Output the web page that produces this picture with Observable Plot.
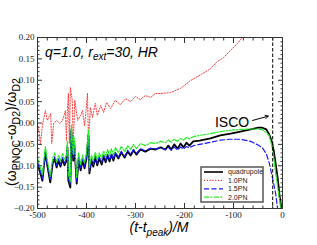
<!DOCTYPE html>
<html><head><meta charset="utf-8">
<script src="https://cdn.jsdelivr.net/npm/d3@7"></script>
<script src="https://cdn.jsdelivr.net/npm/@observablehq/plot@0.6"></script>
<style>body{margin:0;background:#fff} #chart{width:317px;height:245px}</style>
</head><body><div id="chart"></div>
<script>
// shared time grid (t - t_peak)/M for quadrupole, 1.5PN, 2.0PN
const tGrid = [-500,-494,-490,-484,-480,-474,-469,-465,-461,-457,-453,-449,-445,-441,-439,-437,-433,-431,-427,-425,-420,-416,-412,-408,-404,-400,-396,-394,-390,-386,-382,-378,-374,-369,-365,-361,-357,-353,-349,-345,-341,-335,-329,-322,-316,-310,-304,-298,-290,-280,-269,-259,-249,-239,-233,-227,-221,-214,-208,-202,-196,-190,-182,-169,-147,-127,-106,-86,-65,-49,-41,-33,-27,-22,-18,-14,-10,-6,-2];
const quadrupole = [-0.095,-0.118,-0.135,-0.069,-0.099,-0.139,-0.095,-0.083,-0.104,-0.088,-0.102,-0.085,-0.099,-0.088,-0.057,-0.135,-0.151,-0.018,-0.088,-0.048,-0.142,-0.083,-0.111,-0.088,-0.106,-0.083,-0.029,-0.118,-0.088,-0.102,-0.081,-0.099,-0.083,-0.097,-0.078,-0.092,-0.076,-0.090,-0.074,-0.088,-0.071,-0.083,-0.069,-0.081,-0.067,-0.076,-0.064,-0.074,-0.062,-0.067,-0.060,-0.062,-0.057,-0.062,-0.053,-0.062,-0.050,-0.060,-0.048,-0.057,-0.046,-0.053,-0.043,-0.041,-0.036,-0.029,-0.025,-0.020,-0.015,-0.011,-0.011,-0.015,-0.027,-0.043,-0.064,-0.095,-0.127,-0.170,-0.200];
const pn15 = [-0.092,-0.114,-0.130,-0.066,-0.096,-0.134,-0.091,-0.079,-0.100,-0.084,-0.098,-0.081,-0.095,-0.084,-0.052,-0.130,-0.146,-0.014,-0.084,-0.044,-0.137,-0.079,-0.107,-0.084,-0.102,-0.079,-0.026,-0.113,-0.084,-0.098,-0.077,-0.095,-0.079,-0.093,-0.075,-0.089,-0.073,-0.087,-0.071,-0.085,-0.068,-0.080,-0.066,-0.078,-0.064,-0.073,-0.062,-0.071,-0.060,-0.065,-0.059,-0.061,-0.057,-0.063,-0.057,-0.064,-0.056,-0.063,-0.056,-0.061,-0.055,-0.058,-0.053,-0.050,-0.045,-0.040,-0.038,-0.038,-0.043,-0.052,-0.058,-0.072,-0.094,-0.120,-0.142,-0.165,-0.200,-0.210,-0.210];
const pn20 = [-0.082,-0.104,-0.121,-0.055,-0.086,-0.125,-0.082,-0.070,-0.091,-0.075,-0.089,-0.072,-0.086,-0.075,-0.042,-0.121,-0.137,-0.004,-0.075,-0.034,-0.128,-0.070,-0.098,-0.075,-0.093,-0.070,-0.016,-0.104,-0.075,-0.089,-0.068,-0.086,-0.070,-0.084,-0.065,-0.079,-0.062,-0.077,-0.060,-0.075,-0.057,-0.070,-0.055,-0.067,-0.053,-0.062,-0.050,-0.060,-0.048,-0.053,-0.046,-0.048,-0.043,-0.046,-0.040,-0.045,-0.038,-0.043,-0.036,-0.040,-0.034,-0.037,-0.032,-0.029,-0.025,-0.020,-0.017,-0.015,-0.014,-0.014,-0.016,-0.022,-0.030,-0.052,-0.078,-0.118,-0.148,-0.180,-0.210];
// 1.0PN has its own sampling
const pn10T = [-500,-496,-494,-490,-484,-480,-473,-471,-467,-461,-455,-449,-443,-441,-439,-437,-435,-433,-429,-427,-424,-418,-412,-408,-404,-400,-398,-396,-392,-388,-382,-378,-371,-365,-359,-351,-341,-331,-320,-310,-300,-290,-280,-269,-259,-249,-229,-208,-188,-167,-147,-133,-120,-106,-92,-82,-73];
const pn10 = [-0.001,-0.029,-0.048,-0.006,0.029,0.006,0.022,-0.048,-0.001,0.006,-0.001,0.006,0.029,-0.041,0.029,0.069,-0.048,0.083,0.053,-0.053,0.053,0.006,0.018,0.029,-0.006,0.041,0.069,-0.041,0.036,0.013,0.046,0.018,0.041,0.025,0.048,0.034,0.053,0.043,0.057,0.050,0.062,0.055,0.064,0.060,0.069,0.069,0.071,0.081,0.099,0.113,0.127,0.144,0.153,0.170,0.186,0.200,0.214];

const iscoT = [-20];
const iscoLabel = [{t: -103, v: 0.002, text: "ISCO"}];
const iscoArrow = [{t1: -61, v1: 0.006, t2: -29, v2: 0.016}];

const xMajor = [-500,-400,-300,-200,-100,0];
const xMinor = [-480,-460,-440,-420,-380,-360,-340,-320,-280,-260,-240,-220,-180,-160,-140,-120,-80,-60,-40,-20];
const yMajor = [-0.2,-0.15,-0.1,-0.05,0,0.05,0.1,0.15,0.2];
const yMinor = [-0.19,-0.18,-0.17,-0.16,-0.14,-0.13,-0.12,-0.11,-0.09,-0.08,-0.07,-0.06,-0.04,-0.03,-0.02,-0.01,0.01,0.02,0.03,0.04,0.06,0.07,0.08,0.09,0.11,0.12,0.13,0.14,0.16,0.17,0.18,0.19];

const seriesNames = ["quadrupole","1.0PN","1.5PN","2.0PN"];
const seriesColors = ["#000000","#ff3b3b","#1a1aff","#22ee22"];
const seriesDash = [null,"1.2,1.6","5,2.5","5,1.6,1.6,1.6"];

const rows = (ts, vs) => ts.map((t, i) => ({t, v: vs[i]}));
const dQ = rows(tGrid, quadrupole), d10 = rows(pn10T, pn10), d15 = rows(tGrid, pn15), d20 = rows(tGrid, pn20);

const tickStyle = {stroke: "#333", label: null};
const plot = Plot.plot({
  width: 317, height: 245,
  marginLeft: 37, marginRight: 35, marginTop: 37, marginBottom: 37,
  x: {domain: [-500, 0]},
  y: {domain: [-0.2, 0.2]},
  style: {fontFamily: "'Liberation Serif', serif", fontSize: "9px", color: "#222", background: "#fff", overflow: "visible"},
  marks: [
    Plot.line(dQ, {x: "t", y: "v", stroke: seriesColors[0], strokeWidth: 1.8, clip: true}),
    Plot.line(d10, {x: "t", y: "v", stroke: seriesColors[1], strokeWidth: 1, strokeDasharray: seriesDash[1], clip: true}),
    Plot.line(d15, {x: "t", y: "v", stroke: seriesColors[2], strokeWidth: 1.2, strokeDasharray: seriesDash[2], clip: true}),
    Plot.line(d20, {x: "t", y: "v", stroke: seriesColors[3], strokeWidth: 1.2, strokeDasharray: seriesDash[3], clip: true}),
    Plot.ruleX(iscoT, {stroke: "#000", strokeWidth: 1, strokeDasharray: "3.5,2"}),
    Plot.arrow(iscoArrow, {x1: "t1", y1: "v1", x2: "t2", y2: "v2", stroke: "#000", strokeWidth: 1, headLength: 5, bend: 0}),
    Plot.text(iscoLabel, {x: "t", y: "v", text: "text", fontFamily: "'Liberation Sans', sans-serif", fontSize: 14, fill: "#000", textAnchor: "middle"}),
    Plot.frame({stroke: "#333", strokeWidth: 1}),
    Plot.axisX(xMajor, {anchor: "bottom", tickSize: 0, tickPadding: 3, tickFormat: d => String(d), label: null, fill: "#222"}),
    Plot.axisY(yMajor, {anchor: "left", tickSize: 0, tickPadding: 3, tickFormat: d3.format(".2f"), label: null, fill: "#222"}),
    Plot.axisX(xMajor, {anchor: "bottom", tickSize: -5, tickFormat: () => "", ...tickStyle}),
    Plot.axisX(xMinor, {anchor: "bottom", tickSize: -2.5, tickFormat: () => "", ...tickStyle}),
    Plot.axisX(xMajor, {anchor: "top", tickSize: -5, tickFormat: () => "", ...tickStyle}),
    Plot.axisX(xMinor, {anchor: "top", tickSize: -2.5, tickFormat: () => "", ...tickStyle}),
    Plot.axisY(yMajor, {anchor: "left", tickSize: -5, tickFormat: () => "", ...tickStyle}),
    Plot.axisY(yMinor, {anchor: "left", tickSize: -2.5, tickFormat: () => "", ...tickStyle}),
    Plot.axisY(yMajor, {anchor: "right", tickSize: -5, tickFormat: () => "", ...tickStyle}),
    Plot.axisY(yMinor, {anchor: "right", tickSize: -2.5, tickFormat: () => "", ...tickStyle})
  ]
});
document.getElementById("chart").appendChild(plot);

const svg = d3.select(plot);
const sans = "'Liberation Sans', Arial, sans-serif";
// title
const title = svg.append("text").attr("x", 45).attr("y", 57).attr("text-anchor", "start").attr("font-family", sans).attr("font-size", 14).attr("font-style", "italic").attr("fill", "#000");
title.append("tspan").text("q=1.0, r");
title.append("tspan").attr("font-size", 10).attr("dy", "0.3em").text("ext");
title.append("tspan").attr("dy", "-0.2em").text("=30, HR");
// y label
const yl = svg.append("text").attr("transform", "translate(16,132) rotate(-90)").attr("text-anchor", "middle").attr("font-family", sans).attr("font-size", 14).attr("fill", "#000");
yl.append("tspan").text("(ω");
yl.append("tspan").attr("font-size", 10.5).attr("dy", "0.35em").text("PNQC");
yl.append("tspan").attr("dy", "-0.25em").text("-ω");
yl.append("tspan").attr("font-size", 10.5).attr("dy", "0.35em").text("D2");
yl.append("tspan").attr("dy", "-0.25em").text(")/ω");
yl.append("tspan").attr("font-size", 10.5).attr("dy", "0.35em").text("D2");
// x label
const xl = svg.append("text").attr("x", 159).attr("y", 232).attr("text-anchor", "middle").attr("font-family", sans).attr("font-size", 14).attr("font-style", "italic").attr("fill", "#000");
xl.append("tspan").text("(t-t");
xl.append("tspan").attr("font-size", 10).attr("dy", "0.35em").text("peak");
xl.append("tspan").attr("dy", "-0.25em").text(")/M");
// legend
const lg = svg.append("g");
lg.append("rect").attr("x", 201).attr("y", 167).attr("width", 62).attr("height", 35).attr("fill", "#fff").attr("stroke", "#555").attr("stroke-width", 1.5);
seriesNames.forEach((name, i) => {
  const y = 172 + i * 8.4;
  lg.append("line").attr("x1", 204).attr("x2", 223).attr("y1", y).attr("y2", y)
    .attr("stroke", seriesColors[i]).attr("stroke-width", i === 0 ? 1.6 : 1.2)
    .attr("stroke-dasharray", seriesDash[i]);
  lg.append("text").attr("x", 228).attr("y", y).attr("dy", "0.35em").attr("text-anchor", "start").attr("font-family", sans).attr("font-size", 7).attr("fill", "#222").text(name);
});
</script>
</body></html>
